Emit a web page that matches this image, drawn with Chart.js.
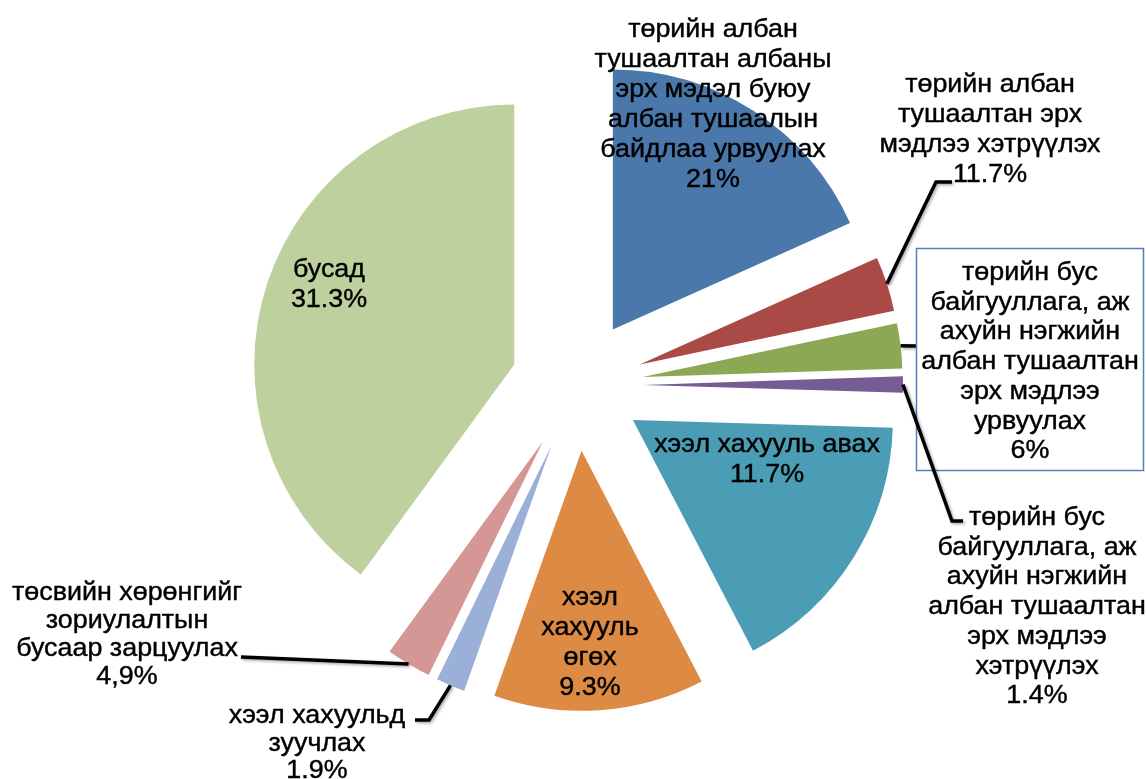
<!DOCTYPE html>
<html>
<head>
<meta charset="utf-8">
<script src="https://cdn.jsdelivr.net/npm/chart.js@4/dist/chart.umd.min.js"></script>
<style>
  html, body { margin: 0; padding: 0; background: #fff; }
  #wrap { width: 1146px; height: 779px; position: relative; }
</style>
</head>
<body>
<div id="wrap"><canvas id="pieChart"></canvas></div>
<script>
// Categories (line breaks as in the original labels)
const categories = [
  "төрийн албан\nтушаалтан албаны\nэрх мэдэл буюу\nалбан тушаалын\nбайдлаа урвуулах",
  "төрийн албан\nтушаалтан эрх\nмэдлээ хэтрүүлэх",
  "төрийн бус\nбайгууллага, аж\nахуйн нэгжийн\nалбан тушаалтан\nэрх мэдлээ\nурвуулах",
  "төрийн бус\nбайгууллага, аж\nахуйн нэгжийн\nалбан тушаалтан\nэрх мэдлээ\nхэтрүүлэх",
  "хээл хахууль авах",
  "хээл\nхахууль\nөгөх",
  "хээл хахуульд\nзуучлах",
  "төсвийн хөрөнгийг\nзориулалтын\nбусаар зарцуулах",
  "бусад"
];

// Slice sizes as drawn in the picture (share of the circle, %)
const sliceShares = [18.3, 3.4, 2.8, 1.0, 16.9, 13.1, 1.8, 2.8, 40.0];

// Percent texts printed on the labels
const pctLabels = ["21%", "11.7%", "6%", "1.4%", "11.7%", "9.3%", "1.9%", "4,9%", "31.3%"];

const sliceColors = ["#4A78AA", "#AA4A46", "#8DA854", "#765C94", "#4A9DB4",
                     "#DD8A45", "#9AB0D6", "#D49795", "#BED09D"];

const EXPLODE = 66;   // px each slice is pulled out
const FONT = '25px "Liberation Sans", Arial, sans-serif';
const TEXT_STRETCH = 1.075;  // the original text runs a bit wide

// where each label sits (first baseline), plus leader line bends
const labelLayout = [
  { x: 713, y: 37, lh: 30 },
  { x: 990, y: 92, lh: 30, leader: [[936, 182], [952, 182]] },
  { x: 1030, y: 280, lh: 29.7, box: [916.5, 248.5, 1143.5, 470.5], leader: [[916, 346]] },
  { x: 1037, y: 525, lh: 29.7, leader: [[952, 521], [963, 521]] },
  { x: 767, y: 452, lh: 30 },
  { x: 590, y: 605, lh: 30 },
  { x: 317, y: 723, lh: 27.5, leader: [[429, 720], [415, 720]] },
  { x: 127, y: 600, lh: 28, leader: [[241, 657]] },
  { x: 329, y: 277, lh: 30 }
];

// draw each slice pulled out along its middle angle
const explodePlugin = {
  id: 'explode',
  beforeDatasetDraw(chart, args) {
    const ctx = chart.ctx;
    args.meta.data.forEach(arc => {
      const mid = (arc.startAngle + arc.endAngle) / 2;
      ctx.save();
      ctx.translate(Math.cos(mid) * EXPLODE, Math.sin(mid) * EXPLODE);
      arc.draw(ctx);
      ctx.restore();
    });
    return false;
  }
};

const labelPlugin = {
  id: 'sliceLabels',
  afterDatasetsDraw(chart) {
    const ctx = chart.ctx;
    const arcs = chart.getDatasetMeta(0).data;
    arcs.forEach((arc, i) => {
      const lay = labelLayout[i];
      const mid = (arc.startAngle + arc.endAngle) / 2;
      const tipX = arc.x + Math.cos(mid) * EXPLODE;
      const tipY = arc.y + Math.sin(mid) * EXPLODE;
      const edgeX = tipX + Math.cos(mid) * arc.outerRadius;
      const edgeY = tipY + Math.sin(mid) * arc.outerRadius;

      if (lay.leader) {
        ctx.save();
        ctx.strokeStyle = '#000';
        ctx.lineWidth = 3.5;
        ctx.lineJoin = 'miter';
        ctx.shadowColor = 'rgba(0,0,0,0.35)';
        ctx.shadowBlur = 3;
        ctx.shadowOffsetX = 1.5;
        ctx.shadowOffsetY = 1.5;
        ctx.beginPath();
        ctx.moveTo(edgeX, edgeY);
        lay.leader.forEach(p => ctx.lineTo(p[0], p[1]));
        ctx.stroke();
        ctx.restore();
      }

      if (lay.box) {
        const b = lay.box;
        ctx.save();
        ctx.fillStyle = '#fff';
        ctx.fillRect(b[0], b[1], b[2] - b[0], b[3] - b[1]);
        ctx.strokeStyle = '#4F81BD';
        ctx.lineWidth = 1.5;
        ctx.strokeRect(b[0], b[1], b[2] - b[0], b[3] - b[1]);
        ctx.restore();
      }

      const lines = categories[i].split('\n').concat([pctLabels[i]]);
      ctx.save();
      ctx.font = FONT;
      ctx.fillStyle = '#000';
      ctx.strokeStyle = '#000';
      ctx.lineWidth = 0.4;
      ctx.textAlign = 'center';
      ctx.textBaseline = 'alphabetic';
      lines.forEach((t, k) => {
        ctx.save();
        ctx.translate(lay.x, lay.y + k * lay.lh);
        ctx.scale(TEXT_STRETCH, 1);
        ctx.fillText(t, 0, 0);
        ctx.strokeText(t, 0, 0);
        ctx.restore();
      });
      ctx.restore();
    });
  }
};

new Chart(document.getElementById('pieChart'), {
  type: 'pie',
  data: {
    labels: categories,
    datasets: [{
      data: sliceShares,
      backgroundColor: sliceColors,
      borderWidth: 0
    }]
  },
  options: {
    responsive: true,
    maintainAspectRatio: false,
    animation: false,
    events: [],
    radius: 260,
    layout: { padding: { left: 8, right: 0, top: 0, bottom: 9 } },
    plugins: {
      legend: { display: false },
      tooltip: { enabled: false }
    }
  },
  plugins: [explodePlugin, labelPlugin]
});
</script>
</body>
</html>
